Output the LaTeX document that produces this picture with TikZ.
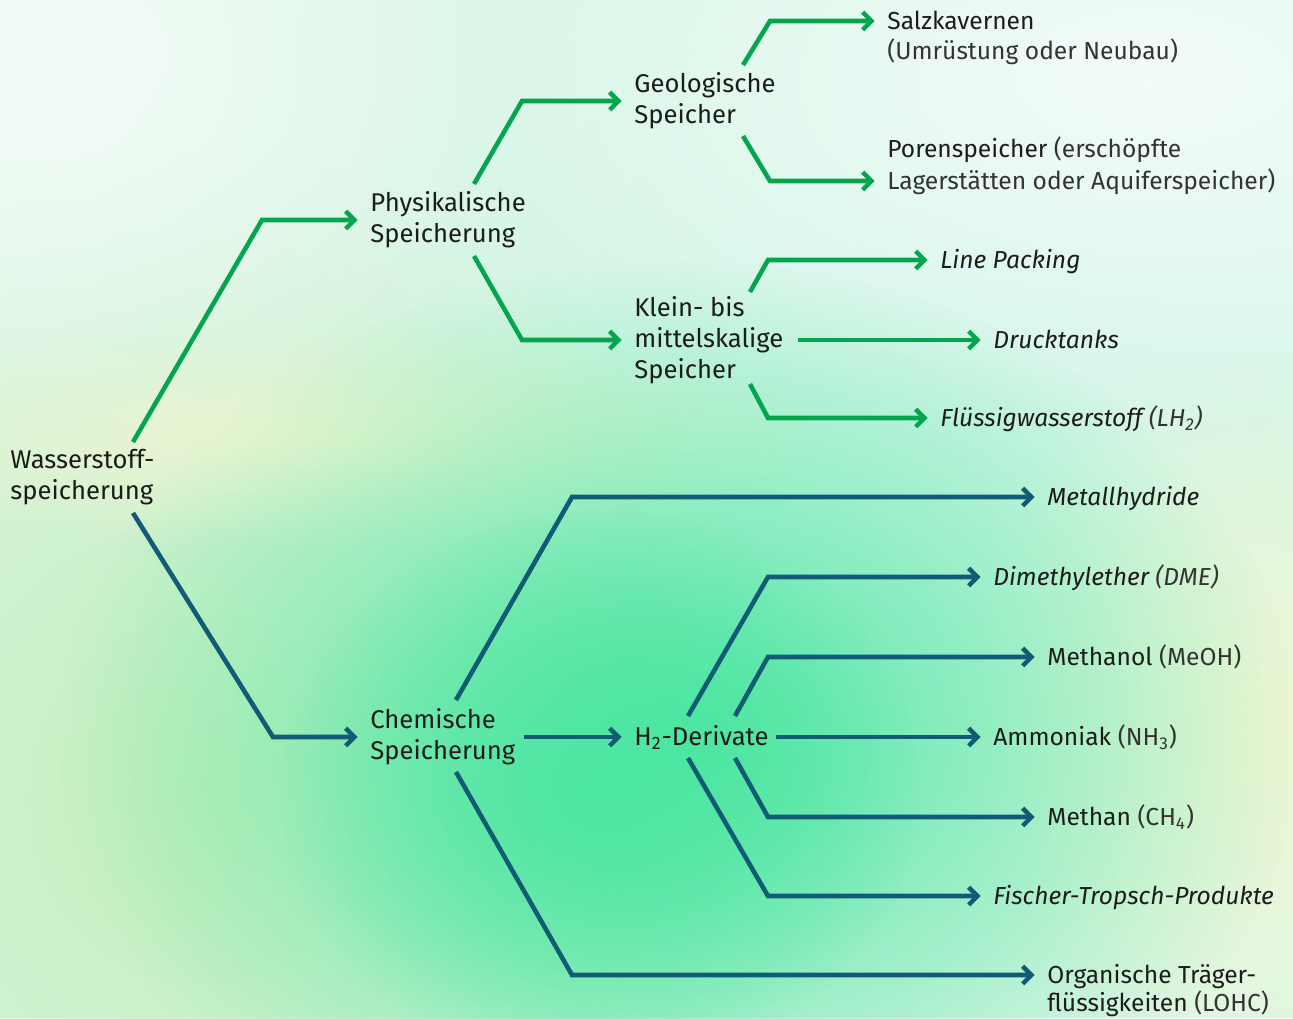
\documentclass[tikz,border=0pt]{standalone}
\usepackage{fontspec}
\setmainfont{Fira Sans}
\usepackage{tikz}
\usetikzlibrary{arrows.meta,fadings}
\definecolor{physgreen}{HTML}{03A64F}
\definecolor{chemblue}{HTML}{115B74}
\definecolor{inkdark}{HTML}{1C1C1C}
\definecolor{inklight}{HTML}{333333}
\definecolor{bgbase}{HTML}{DDF6E6}
\definecolor{bggreen}{HTML}{4CE6A2}
\definecolor{bglime}{HTML}{C4EFBC}
\definecolor{bgmint}{HTML}{D2F7E9}
\definecolor{bgwhite}{HTML}{F4FCF8}
\definecolor{bgyellow}{HTML}{F0F6D2}
\newcommand{\note}[1]{{\color{inklight}#1}}
\tikzfading[name=blobfade,inner color=transparent!0,outer color=transparent!100]
\tikzset{
  lbl/.style={anchor=west,inner sep=0pt,align=left,text=inkdark,
    font=\fontsize{14.6}{17.6}\selectfont},
  leaf/.style={lbl,font=\fontsize{14}{17.6}\selectfont,text height=9.6pt,text depth=0pt},
  gline/.style={draw=physgreen,line width=2.6pt,shorten >=7pt,
    -{Straight Barb[length=5pt,width=10pt]}},
  bline/.style={gline,draw=chemblue},
  blob/.style={path fading=blobfade}
}
\begin{document}
\begin{tikzpicture}[x=0.02cm,y=-0.02cm]
  \useasboundingbox (0,0) rectangle (1293,1018);
  %background
  \fill[bgbase] (0,0) rectangle (1293,1018);
  \fill[bgmint,blob] (1000,300) ellipse (900 and 600);
  \fill[bglime,blob] (200,800) ellipse (600 and 650);
  \fill[bgwhite,blob] (1150,80) ellipse (700 and 360);
  \fill[bgwhite,blob] (40,60) ellipse (500 and 400);
  \fill[bgyellow,blob] (330,440) ellipse (520 and 110);
  \fill[bgyellow,blob] (1260,730) ellipse (320 and 380);
  \fill[bggreen,blob] (680,740) ellipse (620 and 480);
  \fill[bggreen,blob] (600,790) ellipse (320 and 280);

  \node[lbl] (wasser) at (10,477) {Wasserstoff-\\speicherung};
  \node[lbl] (phys) at (370,220) {Physikalische\\Speicherung};
  \node[lbl] (chem) at (370,737) {Chemische\\Speicherung};
  \node[lbl] (geo) at (634,101) {Geologische\\Speicher};
  \node[lbl] (klein) at (634,340) {Klein- bis\\mittelskalige\\Speicher};
  \node[leaf,font=\fontsize{14.6}{17.6}\selectfont] (h2) at (634,737) {H\textsubscript{2}-Derivate};

  \node[leaf] (salz) at (887,21) {Salzkavernen};
  \node[leaf] (salznote) at (887,51) {\note{(Umrüstung oder Neubau)}};
  \node[leaf] (porennote) at (887,149) {Porenspeicher \note{(erschöpfte}};
  \node[leaf] (poren) at (887,181) {\note{Lagerstätten oder Aquiferspeicher)}};
  \node[leaf] (line) at (940,260) {\itshape Line Packing};
  \node[leaf] (druck) at (993,340) {\itshape Drucktanks};
  \node[leaf] (lh2) at (940,418) {\itshape Flüssigwasserstoff \note{(LH\textsubscript{2})}};
  \node[leaf] (metall) at (1047,497) {\itshape Metallhydride};
  \node[leaf] (dme) at (993,577) {\itshape Dimethylether \note{(DME)}};
  \node[leaf] (meoh) at (1047,657) {Methanol \note{(MeOH)}};
  \node[leaf] (nh3) at (993,737) {Ammoniak \note{(NH\textsubscript{3})}};
  \node[leaf] (ch4) at (1047,817) {Methan \note{(CH\textsubscript{4})}};
  \node[leaf] (ft) at (993,896) {\itshape Fischer-Tropsch-Produkte};
  \node[leaf] (lohc) at (1047,975) {Organische Träger-};
  \node[leaf] (lohcnote) at (1047,1003) {flüssigkeiten \note{(LOHC)}};

  \draw[gline] ([shift={(123,-35)}]wasser.west) -- (262,220) -- (phys.west);
  \draw[bline] ([shift={(123,36)}]wasser.west) -- (273,737) -- (chem.west);

  \draw[gline] ([shift={(104,-36)}]phys.west) -- (522,101) -- (geo.west);
  \draw[gline] ([shift={(104,36)}]phys.west) -- (522,340) -- (klein.west);

  \draw[gline] ([shift={(109,-36)}]geo.west) -- (770,21) -- (salz.west);
  \draw[gline] ([shift={(109,35)}]geo.west) -- (770,181) -- (poren.west);

  \draw[gline] ([shift={(116,-48)}]klein.west) -- (768,260) -- (line.west);
  \draw[gline] ([shift={(164,0)}]klein.west) -- (druck.west);
  \draw[gline] ([shift={(116,44)}]klein.west) -- (768,418) -- (lh2.west);

  \draw[bline] ([shift={(86,-37)}]chem.west) -- (572,497) -- (metall.west);
  \draw[bline] ([shift={(154,0)}]chem.west) -- (h2.west);
  \draw[bline] ([shift={(86,35)}]chem.west) -- (572,975) -- (lohc.west);

  \draw[bline] ([shift={(54,-21)}]h2.west) -- (768,577) -- (dme.west);
  \draw[bline] ([shift={(101,-21)}]h2.west) -- (768,657) -- (meoh.west);
  \draw[bline] ([shift={(142,0)}]h2.west) -- (nh3.west);
  \draw[bline] ([shift={(101,21)}]h2.west) -- (768,817) -- (ch4.west);
  \draw[bline] ([shift={(54,21)}]h2.west) -- (768,896) -- (ft.west);
\end{tikzpicture}
\end{document}
